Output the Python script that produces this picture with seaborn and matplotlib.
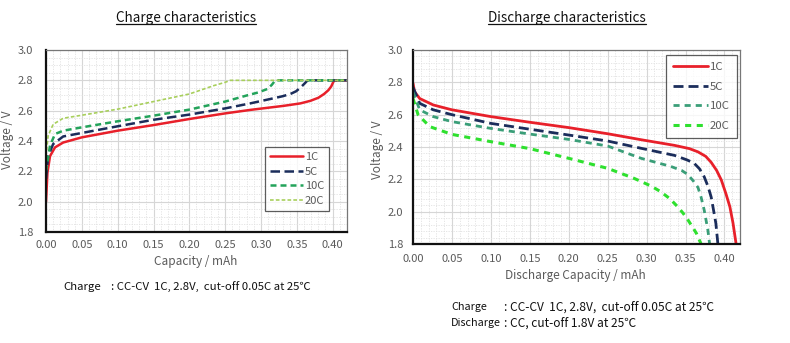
import numpy as np
import pandas as pd
import matplotlib
matplotlib.use("Agg")
import matplotlib.pyplot as plt
from matplotlib.ticker import MultipleLocator, FormatStrFormatter
from matplotlib.lines import Line2D
import seaborn as sns

sns.set_style("white")
plt.rcParams["font.family"] = ["Noto Sans CJK JP", "DejaVu Sans"]

rates = ["1C", "5C", "10C", "20C"]

# Charge curves: capacity (mAh) vs voltage (V)
chg_cap_1c = [0.0, 0.002, 0.0056, 0.0126, 0.024, 0.05, 0.10, 0.15, 0.20, 0.25, 0.285, 0.332, 0.355, 0.369, 0.380, 0.388, 0.394, 0.398, 0.402, 0.42]
chg_v_1c = [2.00, 2.19, 2.30, 2.358, 2.39, 2.424, 2.468, 2.505, 2.545, 2.582, 2.605, 2.632, 2.648, 2.665, 2.685, 2.71, 2.735, 2.76, 2.80, 2.80]
chg_cap_5c = [0.0, 0.003, 0.01, 0.024, 0.05, 0.10, 0.15, 0.20, 0.25, 0.285, 0.313, 0.330, 0.341, 0.349, 0.355, 0.360, 0.365, 0.42]
chg_v_5c = [2.15, 2.30, 2.38, 2.43, 2.453, 2.497, 2.54, 2.574, 2.615, 2.648, 2.677, 2.695, 2.71, 2.728, 2.752, 2.775, 2.80, 2.80]
chg_cap_10c = [0.0, 0.0056, 0.0126, 0.024, 0.05, 0.10, 0.15, 0.20, 0.25, 0.28, 0.296, 0.309, 0.315, 0.320, 0.42]
chg_v_10c = [2.20, 2.37, 2.446, 2.468, 2.49, 2.53, 2.567, 2.607, 2.66, 2.70, 2.72, 2.743, 2.77, 2.80, 2.80]
chg_cap_20c = [0.0, 0.003, 0.01, 0.024, 0.05, 0.10, 0.15, 0.20, 0.234, 0.25, 0.257, 0.42]
chg_v_20c = [2.30, 2.435, 2.51, 2.55, 2.57, 2.61, 2.66, 2.71, 2.765, 2.787, 2.80, 2.80]

# Discharge curves: capacity (mAh) vs voltage (V)
dis_cap_1c = [0.0, 0.002, 0.0086, 0.026, 0.05, 0.10, 0.15, 0.20, 0.25, 0.293, 0.336, 0.355, 0.366, 0.376, 0.383, 0.390, 0.396, 0.402, 0.407, 0.411, 0.415]
dis_v_1c = [2.794, 2.742, 2.70, 2.66, 2.63, 2.588, 2.553, 2.52, 2.482, 2.445, 2.41, 2.39, 2.37, 2.342, 2.305, 2.255, 2.196, 2.11, 2.03, 1.93, 1.80]
dis_cap_5c = [0.0, 0.0086, 0.026, 0.05, 0.10, 0.15, 0.20, 0.25, 0.293, 0.336, 0.352, 0.361, 0.368, 0.374, 0.379, 0.383, 0.386, 0.389, 0.3916]
dis_v_5c = [2.77, 2.67, 2.63, 2.60, 2.546, 2.51, 2.474, 2.437, 2.392, 2.348, 2.32, 2.30, 2.265, 2.216, 2.155, 2.09, 2.01, 1.928, 1.80]
dis_cap_10c = [0.0, 0.0086, 0.026, 0.05, 0.10, 0.15, 0.20, 0.25, 0.293, 0.331, 0.345, 0.353, 0.360, 0.366, 0.370, 0.374, 0.3787, 0.381]
dis_v_10c = [2.74, 2.63, 2.588, 2.557, 2.515, 2.48, 2.447, 2.406, 2.33, 2.28, 2.255, 2.23, 2.19, 2.15, 2.09, 2.01, 1.887, 1.80]
dis_cap_20c = [0.0, 0.0065, 0.0215, 0.05, 0.10, 0.15, 0.20, 0.25, 0.284, 0.306, 0.318, 0.330, 0.340, 0.347, 0.353, 0.359, 0.364, 0.370]
dis_v_20c = [2.70, 2.60, 2.526, 2.478, 2.433, 2.39, 2.33, 2.268, 2.206, 2.158, 2.124, 2.08, 2.03, 1.99, 1.95, 1.905, 1.866, 1.80]

charge_series = [(chg_cap_1c, chg_v_1c), (chg_cap_5c, chg_v_5c), (chg_cap_10c, chg_v_10c), (chg_cap_20c, chg_v_20c)]
discharge_series = [(dis_cap_1c, dis_v_1c), (dis_cap_5c, dis_v_5c), (dis_cap_10c, dis_v_10c), (dis_cap_20c, dis_v_20c)]

charge_styles = [
    dict(color="#e8202a", lw=1.8, ls="-"),
    dict(color="#1b2d5b", lw=1.8, ls=(0, (3.8, 1.8))),
    dict(color="#23a35a", lw=1.8, ls=(0, (2.4, 1.6))),
    dict(color="#a8cf5c", lw=1.2, ls=(0, (2.2, 1.3))),
]
discharge_styles = [
    dict(color="#e8202a", lw=2.0, ls="-"),
    dict(color="#1b2d5b", lw=2.0, ls=(0, (3.6, 1.8))),
    dict(color="#3a9e78", lw=2.0, ls=(0, (2.2, 1.8))),
    dict(color="#2ee02e", lw=2.2, ls=(0, (2.0, 1.8))),
]

W, H = 790, 343
fig = plt.figure(figsize=(W / 100, H / 100), dpi=100)


def px_axes(x0, y0, x1, y1):
    return fig.add_axes([x0 / W, 1 - y1 / H, (x1 - x0) / W, (y1 - y0) / H])


ax1 = px_axes(46, 50, 347, 232)
ax2 = px_axes(413, 50, 740, 244)

tick_gray = "#5a5a5a"


def draw(ax, series, styles, ymin_step):
    for (cap, v), name, st in zip(series, rates, styles):
        df = pd.DataFrame({"cap": cap, "v": v})
        sns.lineplot(data=df, x="cap", y="v", ax=ax, color=st["color"], linewidth=st["lw"],
                     linestyle=st["ls"], estimator=None, sort=False, label=name)
    ax.set_xlim(0, 0.42)
    ax.set_ylim(1.8, 3.0)
    ax.xaxis.set_major_locator(MultipleLocator(0.05))
    ax.xaxis.set_minor_locator(MultipleLocator(0.01))
    ax.yaxis.set_major_locator(MultipleLocator(0.2))
    ax.yaxis.set_minor_locator(MultipleLocator(ymin_step))
    ax.xaxis.set_major_formatter(FormatStrFormatter("%.2f"))
    ax.yaxis.set_major_formatter(FormatStrFormatter("%.1f"))
    ax.grid(True, which="major", color="#d6d6d6", lw=0.8, ls="-")
    ax.grid(True, which="minor", color="#e2e2e2", lw=0.6, ls=(0, (1.5, 1.5)))
    ax.set_axisbelow(True)
    ax.tick_params(which="both", direction="in", colors="#111111", labelcolor=tick_gray,
                   labelsize=8, top=False, right=False)
    ax.tick_params(which="major", length=3, width=1.0)
    ax.tick_params(which="minor", length=2.5, width=0.8)
    for s in ("left", "bottom"):
        ax.spines[s].set_color("#111111")
        ax.spines[s].set_linewidth(1.6)
    for s in ("top", "right"):
        ax.spines[s].set_color("#777777")
        ax.spines[s].set_linewidth(0.9)
    ax.set_xlabel("")
    ax.set_ylabel("")


draw(ax1, charge_series, charge_styles, 0.05)
draw(ax2, discharge_series, discharge_styles, 0.04)

ax1.tick_params(axis="y", pad=9)
ax1.tick_params(axis="x", pad=6)
ax2.tick_params(axis="y", pad=7)
ax2.tick_params(axis="x", pad=7)

leg1 = ax1.legend(loc="upper left", bbox_to_anchor=(0.727, 0.467), fontsize=8, frameon=True,
                  fancybox=False, edgecolor="#333333", handlelength=3.0, handletextpad=0.15,
                  labelspacing=0.42, borderpad=0.45, borderaxespad=0)
leg1.get_frame().set_linewidth(0.9)
for t in leg1.get_texts():
    t.set_color(tick_gray)

leg2 = ax2.legend(loc="upper left", bbox_to_anchor=(0.774, 0.974), fontsize=8.2, frameon=True,
                  fancybox=False, edgecolor="#333333", handlelength=3.1, handletextpad=0.15,
                  labelspacing=0.85, borderpad=0.6, borderaxespad=0)
leg2.get_frame().set_linewidth(0.9)
for t in leg2.get_texts():
    t.set_color(tick_gray)

label_kw = dict(color=tick_gray, fontsize=8.5)
fig.text(196 / W, 1 - 262 / H, "Capacity / mAh", ha="center", va="center", **label_kw)
fig.text(575 / W, 1 - 276 / H, "Discharge Capacity / mAh", ha="center", va="center", **label_kw)
fig.text(8 / W, 1 - 140 / H, "Voltage / V", ha="center", va="center", rotation=90, **label_kw)
fig.text(378 / W, 1 - 150 / H, "Voltage / V", ha="center", va="center", rotation=90, **label_kw)

titles = [
    fig.text(186 / W, 1 - 18 / H, "Charge characteristics", ha="center", va="center", fontsize=9.7, color="#111111"),
    fig.text(567 / W, 1 - 18 / H, "Discharge characteristics", ha="center", va="center", fontsize=9.7, color="#111111"),
]

note_left = dict(fontsize=8.2, color="#111111", va="center", ha="left")
note_head = dict(fontsize=7.8, color="#111111", va="center", ha="left")
note_right = dict(fontsize=8.6, color="#111111", va="center", ha="left")
fig.text(63 / W, 1 - 287 / H, "Charge", **note_left)
fig.text(111 / W, 1 - 287 / H, ": CC-CV  1C, 2.8V,  cut-off 0.05C at 25℃", **note_left)
fig.text(451 / W, 1 - 307 / H, "Charge", **note_head)
fig.text(504 / W, 1 - 307 / H, ": CC-CV  1C, 2.8V,  cut-off 0.05C at 25℃", **note_right)
fig.text(451 / W, 1 - 323 / H, "Discharge", **note_head)
fig.text(504 / W, 1 - 323 / H, ": CC, cut-off 1.8V at 25℃", **note_right)

# underline the two titles
fig.canvas.draw()
renderer = fig.canvas.get_renderer()
for t in titles:
    bb = t.get_window_extent(renderer)
    yline = (bb.y0 + 1) / H
    fig.add_artist(Line2D([bb.x0 / W, bb.x1 / W], [yline, yline], color="#111111", lw=0.9))

fig.savefig("out.png", dpi=100)
